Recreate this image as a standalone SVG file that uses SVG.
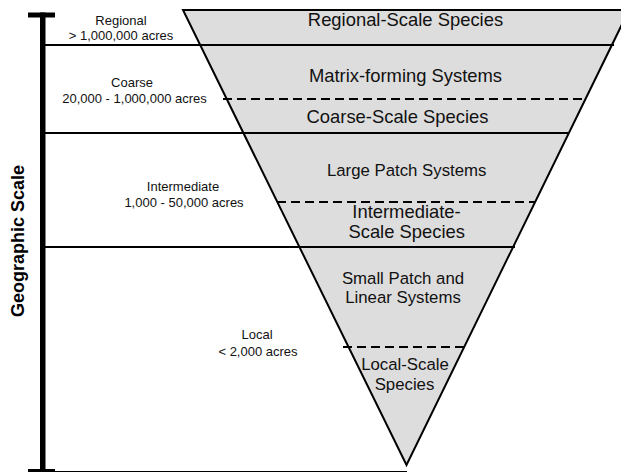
<svg xmlns="http://www.w3.org/2000/svg" width="621" height="472" viewBox="0 0 621 472">
<style>
.lbl{font-family:"Liberation Sans",Arial,sans-serif;font-size:13px;fill:#111;text-anchor:middle}
.big{font-family:"Liberation Sans",Arial,sans-serif;font-size:18.4px;fill:#111;text-anchor:middle}
.mid{font-family:"Liberation Sans",Arial,sans-serif;font-size:16.8px;fill:#111;text-anchor:middle}
.solid{stroke:#000;stroke-width:2;fill:none}
.dash{stroke:#000;stroke-width:2;stroke-dasharray:9,5;fill:none}
</style>
<rect width="621" height="472" fill="#fff"/>
<g id="triangle">
<polygon points="183,10 629,10 406.5,465" fill="#dddddd" stroke="#000" stroke-width="2" stroke-linejoin="miter"/>
</g>
<g id="connectors">
<line class="solid" x1="45" y1="45" x2="614" y2="45"/>
<line class="solid" x1="45" y1="133" x2="569" y2="133"/>
<line class="solid" x1="45" y1="247" x2="515" y2="247"/>
<line class="dash" x1="223" y1="99" x2="585" y2="99"/>
<line class="dash" x1="277" y1="202" x2="535" y2="202"/>
<line class="dash" x1="343" y1="347" x2="467" y2="347"/>
<line x1="55" y1="471.5" x2="407" y2="471.5" stroke="#000" stroke-width="1"/>
</g>
<g id="scale-bar">
<rect x="40" y="12.5" width="5.5" height="459.5" fill="#000"/>
<rect x="28" y="12.5" width="27" height="5" fill="#000"/>
<rect x="28" y="469" width="27" height="3" fill="#000"/>
<text transform="translate(24,241) rotate(-90)" style="font-family:'Liberation Sans',Arial,sans-serif;font-size:18px;font-weight:bold;fill:#000;text-anchor:middle">Geographic Scale</text>
</g>
<g id="scale-labels">
<text class="lbl" x="121" y="25">Regional</text>
<text class="lbl" x="121" y="40">&gt; 1,000,000 acres</text>
<text class="lbl" x="132" y="87">Coarse</text>
<text class="lbl" x="134.5" y="103">20,000 - 1,000,000 acres</text>
<text class="lbl" x="183" y="191">Intermediate</text>
<text class="lbl" x="184" y="207">1,000 - 50,000 acres</text>
<text class="lbl" x="257" y="339">Local</text>
<text class="lbl" x="258" y="356">&lt; 2,000 acres</text>
</g>
<g id="regional-species"><text class="big" x="405.5" y="26">Regional-Scale Species</text></g>
<g id="matrix-systems"><text class="big" x="405.5" y="82">Matrix-forming Systems</text></g>
<g id="coarse-species"><text class="big" x="397.5" y="123">Coarse-Scale Species</text></g>
<g id="large-patch"><text class="mid" x="406.7" y="176">Large Patch Systems</text></g>
<g id="intermediate-species"><text class="big" x="406.5" y="218">Intermediate-</text><text class="big" x="406.7" y="238">Scale Species</text></g>
<g id="small-patch"><text class="mid" x="403" y="284">Small Patch and</text><text class="mid" x="403" y="303">Linear Systems</text></g>
<g id="local-species"><text class="mid" x="405" y="370">Local-Scale</text><text class="mid" x="404.5" y="389.5">Species</text></g>
</svg>
